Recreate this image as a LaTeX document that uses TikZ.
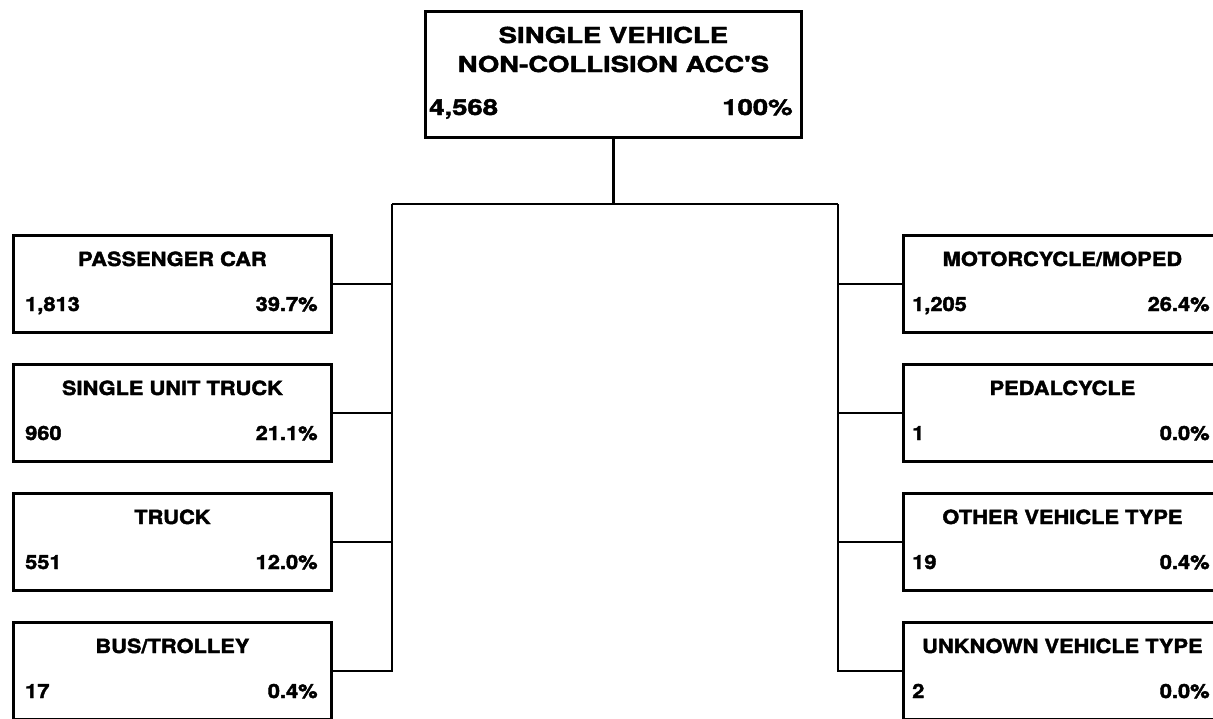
\documentclass[tikz,border=0pt]{standalone}
\usepackage{fontspec}
\setmainfont{TeX Gyre Heros}
\newfontfamily\boxfont[FakeStretch=1.12,BoldFeatures={FakeBold=2}]{TeX Gyre Heros}
\newfontfamily\titlefont[FakeStretch=1.25,BoldFeatures={FakeBold=2}]{TeX Gyre Heros}
\usetikzlibrary{positioning,calc}

\begin{document}
\begin{tikzpicture}[x=1pt,y=-1pt,
  vbox/.style={draw,line width=2.8pt,minimum width=318pt,minimum height=97pt,inner sep=0pt,anchor=north west},
  lab/.style={font=\boxfont\bfseries\fontsize{19.5}{22}\selectfont,anchor=base,inner sep=0pt},
  num/.style={font=\boxfont\bfseries\fontsize{19.5}{22}\selectfont,anchor=base west,inner sep=0pt},
  pct/.style={font=\boxfont\bfseries\fontsize{19.5}{22}\selectfont,anchor=base east,inner sep=0pt},
  ttl/.style={font=\titlefont\bfseries\fontsize{22}{24}\selectfont,inner sep=0pt},
  link/.style={line width=2.8pt}]
  \useasboundingbox (0,0) rectangle (1213,718);
  \clip (0,0) rectangle (1213,718);

  % top box
  \node[draw,line width=2.8pt,minimum width=376pt,minimum height=126pt,anchor=north west] (top) at (424,10) {};
  \node[ttl,anchor=base] (top-a) at ($(top.north)+(0,33)$) {SINGLE VEHICLE};
  \node[ttl,anchor=base] (top-b) at ($(top.north)+(0,62)$) {NON-COLLISION ACC'S};
  \node[ttl,anchor=base west] (top-n) at ($(top.north west)+(5,105)$) {4,568};
  \node[ttl,anchor=base east] (top-p) at ($(top.north east)+(-10,105)$) {100\%};

  % left column
  \foreach \nm/\lab/\cnt/\pc [count=\i from 0] in {
      pc/PASSENGER CAR/{1,813}/39.7\%,
      sut/SINGLE UNIT TRUCK/960/21.1\%,
      trk/TRUCK/551/12.0\%,
      bus/{BUS/TROLLEY}/17/0.4\%}{
    \node[vbox] (\nm) at (12,234+129*\i) {};
    \node[lab] (\nm-l) at ($(\nm.north)+(0,32)$) {\lab};
    \node[num] (\nm-n) at ($(\nm.north west)+(13,77)$) {\cnt};
    \node[pct] (\nm-p) at ($(\nm.north east)+(-15,77)$) {\pc};
  }

  % right column
  \foreach \nm/\lab/\cnt/\pc [count=\i from 0] in {
      moto/{MOTORCYCLE/MOPED}/{1,205}/26.4\%,
      ped/PEDALCYCLE/1/0.0\%,
      oth/OTHER VEHICLE TYPE/19/0.4\%,
      unk/UNKNOWN VEHICLE TYPE/2/0.0\%}{
    \node[vbox] (\nm) at (902,234+129*\i) {};
    \node[lab] (\nm-l) at ($(\nm.north)+(0,32)$) {\lab};
    \node[num] (\nm-n) at ($(\nm.north west)+(10,77)$) {\cnt};
    \node[pct] (\nm-p) at ($(\nm.north east)+(-13,77)$) {\pc};
  }

  % connectors
  \coordinate (jl) at (392,204);
  \coordinate (jr) at (838,204);
  \coordinate (hub) at (top.south |- jl);
  \draw[link] (top.south) -- (hub);
  \draw[link] (jl) -- (jr);
  \draw[link] (jl) |- (bus.east);
  \draw[link] (jr) |- (unk.west);
  \foreach \nm in {pc,sut,trk}
    \draw[link] (\nm.east) -- (\nm.east -| jl);
  \foreach \nm in {moto,ped,oth}
    \draw[link] (\nm.west) -- (\nm.west -| jr);
\end{tikzpicture}
\end{document}
